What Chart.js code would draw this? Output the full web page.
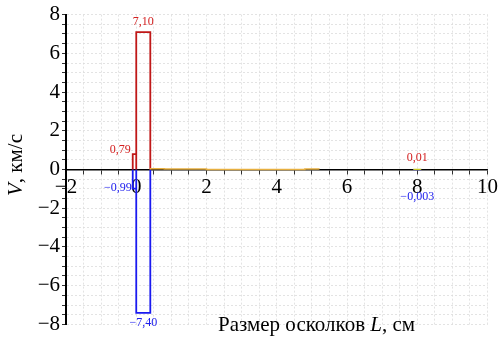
<!DOCTYPE html>
<html><head><meta charset="utf-8">
<script src="https://cdn.jsdelivr.net/npm/chart.js@4.4.0/dist/chart.umd.min.js"></script>
<style>html,body{margin:0;padding:0;background:#fff}#c{width:499px;height:339px}</style>
</head><body><div id="c"><canvas id="cv" width="499" height="339"></canvas></div>
<script>
// Bins (fragment size L, cm) and velocities V (km/s)
const redLeft   = [-0.1, 0.0];
const redRight  = [0.0, 0.4];
const redValues = [0.79, 7.10];
const blueLeft   = [-0.1, 0.0];
const blueRight  = [0.0, 0.4];
const blueValues = [-0.99, -7.40];
const orangeLeft   = [0.4, 0.8, 1.2, 1.6, 4.8];
const orangeRight  = [0.8, 1.2, 1.6, 2.0, 5.2];
const orangeValues = [0.04, 0.03, 0.03, 0.02, 0.03];
const smallLeft  = [7.9];
const smallRight = [8.1];
const smallPos   = [0.01];
const smallNeg   = [-0.003];
const xTickLabels = ['−2','0','2','4','6','8','10'];
const yTickLabels = ['−8','−6','−4','−2','0','2','4','6','8'];
// annotations
const annoX = [0.2, -0.1, 8, -0.1, 0.2, 8];
const annoY = [7.10, 0.79, 0.01, -0.99, -7.40, -0.003];
const annoText = ['7,10','0,79','0,01','−0,99','−7,40','−0,003'];

function outline(L, R, V) {
  const pts = [];
  for (let i = 0; i < V.length; i++) {
    pts.push({x: L[i], y: 0}, {x: L[i], y: V[i]}, {x: R[i], y: V[i]}, {x: R[i], y: 0});
  }
  return pts;
}
function closedOutline(L, R, V) {
  const pts = [];
  for (let i = 0; i < V.length; i++) {
    pts.push({x: L[i], y: 0}, {x: L[i], y: V[i]}, {x: R[i], y: V[i]}, {x: R[i], y: 0});
    pts.push({x: null, y: null});
  }
  return pts;
}
const ds = (data, color, w) => ({type:'line', data, borderColor:color, borderWidth:w, pointRadius:0, fill:false, tension:0, spanGaps:false});

const SERIF = '"Liberation Serif", "DejaVu Serif", serif';

const annoPlugin = {
  id: 'anno',
  afterDatasetsDraw(chart) {
    const {ctx, scales:{x, y}} = chart;
    ctx.save();
    ctx.font = '12px ' + SERIF;
    const cfg = [
      {c:'#d42020', a:'center', dy:-10},
      {c:'#d42020', a:'right', dy:-4, dx:-2},
      {c:'#d42020', a:'center', dy:-11},
      {c:'#2020ee', a:'right', dy:-1, dx:-1},
      {c:'#2020ee', a:'center', dy:10},
      {c:'#2020ee', a:'center', dy:27}
    ];
    for (let i = 0; i < annoText.length; i++) {
      const k = cfg[i];
      ctx.fillStyle = k.c; ctx.textAlign = k.a; ctx.textBaseline = 'middle';
      ctx.fillText(annoText[i], x.getPixelForValue(annoX[i]) + (k.dx||0), y.getPixelForValue(annoY[i]) + k.dy);
    }
    // x-axis title
    ctx.fillStyle = '#000';
    ctx.textAlign = 'left'; ctx.textBaseline = 'alphabetic';
    let px = 218, py = 331;
    const parts = [['Размер осколков ', ''], ['L', 'italic '], [', см', '']];
    for (const [t, st] of parts) {
      ctx.font = st + '21px ' + SERIF;
      ctx.fillText(t, px, py);
      px += ctx.measureText(t).width;
    }
    // y-axis title (rotated)
    ctx.translate(22, 196);
    ctx.rotate(-Math.PI/2);
    px = 0;
    const yparts = [['V', 'italic '], [', км/с', '']];
    for (const [t, st] of yparts) {
      ctx.font = st + '21px ' + SERIF;
      ctx.fillText(t, px, 0);
      px += ctx.measureText(t).width;
    }
    ctx.restore();
  }
};

new Chart(document.getElementById('cv'), {
  data: {
    datasets: [
      ds(outline(orangeLeft, orangeRight, orangeValues), '#e8b040', 1.5),
      ds(outline(smallLeft, smallRight, smallPos), '#c8c820', 1.2),
      ds(outline(smallLeft, smallRight, smallNeg), '#6060ee', 1.2),
      ds(outline(redLeft, redRight, redValues), '#c01818', 1.8),
      ds(closedOutline(blueLeft, blueRight, blueValues), '#1a1af0', 1.8)
    ]
  },
  options: {
    responsive: false, animation: false,
    layout: {padding: {top: 14, right: 9, bottom: 13, left: 0}},
    plugins: {legend: {display: false}, tooltip: {enabled: false}},
    scales: {
      x: {
        type: 'linear', min: -2, max: 10,
        position: {y: 0},
        afterFit(s) { s.height = 0; },
        border: {color: '#000', width: 1.5, dash: [2, 2]},
        grid: {color: '#dcdcdc', lineWidth: 0.8, tickColor: '#000', tickLength: 4, tickBorderDash: []},
        ticks: {
          stepSize: 0.5, autoSkip: false, maxRotation: 0, padding: 1,
          color: '#000',
          font: {family: SERIF, size: 21},
          callback: (v) => (Math.abs(v % 2) < 1e-9) ? xTickLabels[(v + 2) / 2] : ''
        }
      },
      y: {
        type: 'linear', min: -8, max: 8,
        afterFit(s) { s.width = 66; },
        border: {color: '#000', width: 2, dash: [2, 2]},
        grid: {color: '#dcdcdc', lineWidth: 0.8, tickColor: '#000', tickLength: 4, tickBorderDash: []},
        ticks: {
          stepSize: 0.5, autoSkip: false, padding: 2,
          color: '#000',
          font: {family: SERIF, size: 21},
          callback: (v) => (Math.abs(v % 2) < 1e-9) ? yTickLabels[(v + 8) / 2] : ''
        }
      }
    }
  },
  plugins: [annoPlugin]
});
</script></body></html>
